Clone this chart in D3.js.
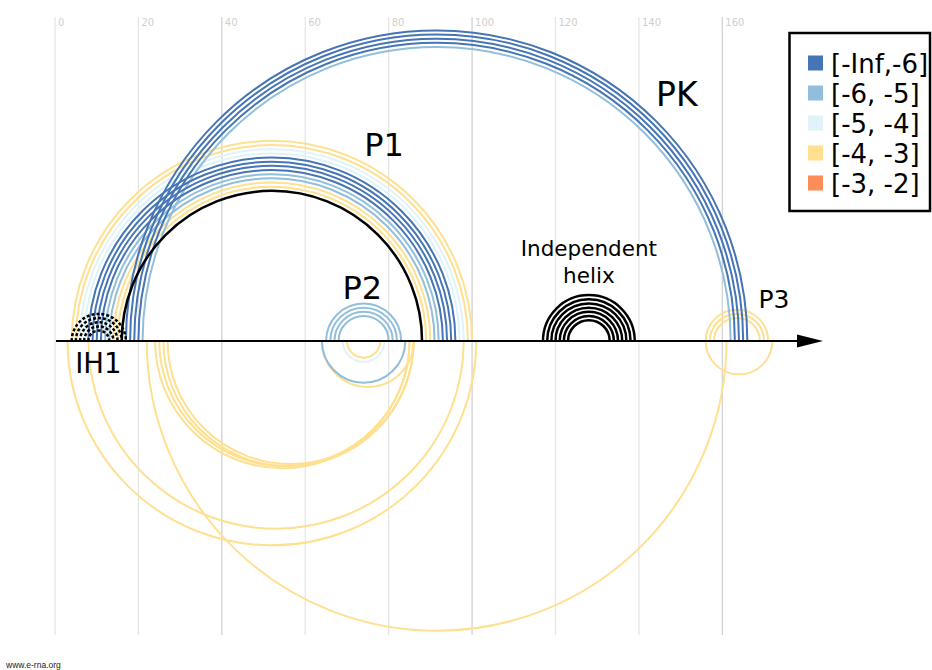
<!DOCTYPE html>
<html><head><meta charset="utf-8">
<script src="https://cdn.jsdelivr.net/npm/d3@7"></script>
<style>html,body{margin:0;padding:0;background:#fff;}svg{display:block;}</style>
</head><body>
<svg id="chart" width="932" height="670"></svg>
<script>
// ---------- data ----------
const xTicks = [0, 20, 40, 60, 80, 100, 120, 140, 160];
const bins = ["[-Inf,-6]", "[-6, -5]", "[-5, -4]", "[-4, -3]", "[-3, -2]"];
// predicted base pairs drawn above the line: [i, j, bin index]
const upperPairs = [
  // P1
  [4,100,3],[5,99,3],[6,98,2],[7,97,2],[8,96,0],[9,95,0],[10,94,0],[11,93,0],
  [12,92,1],[13,91,1],[14,90,3],[15,89,3],
  // PK
  [17,166,0],[18,165,0],[19,164,0],[20,163,0],[21,162,1],
  // P2
  [65,83,1],[66,82,1],[67,81,1],[68,80,1],
  // P3
  [156,171,3],[157,170,3],[158,169,3]
];
// alternative base pairs drawn below the line: [i, j, bin index]
const lowerPairs = [
  [22,161,3],[3,101,3],[8,98,3],
  [24,85,3],[25,85,3],[26,86,3],[27,86,3],
  [64,86,3],[64,84,1],[69,79,2],[70,78,3],
  [156,172,3]
];
// known structure (black): solid and dashed
const knownPairs = [
  [16,88],
  [117,139],[118,138],[119,137],[120,136],[121,135],[122,134],[123,133]
];
const dashedPairs = [[4,17],[5,16],[6,15],[7,14],[8,13]];
// labels: [text, x (nt), baseline height (nt)]
const helixLabels = [
  ["PK", 149.1, 56.4], ["P1", 78.9, 44.4], ["P2", 73.7, 10], ["P3", 172.4, 7.8], ["IH1", 10.4, -7.6]
];

// ---------- drawing ----------
const palette = ["#4575B4", "#91BFDB", "#E0F3F8", "#FEE090", "#FC8D59"];
const svg = d3.select("#chart");
const x = d3.scaleLinear().domain([0, 160]).range([55, 722.33]);
const k = (x(160) - x(0)) / 160;
const y0 = 341;
const y = d3.scaleLinear().domain([-80, 80]).range([y0 + 80 * k, y0 - 80 * k]);

// grid
const grid = svg.append("g");
grid.selectAll("line").data(xTicks).join("line")
  .attr("x1", d => x(d)).attr("x2", d => x(d))
  .attr("y1", 17).attr("y2", 635)
  .attr("stroke", d => (d % 60 === 40) ? "#d2d2d2" : "#e6e6e6")
  .attr("stroke-width", 1.3);
grid.selectAll("text").data(xTicks).join("text")
  .attr("x", d => x(d) + 3).attr("y", 26)
  .attr("font-family", "DejaVu Sans, sans-serif").attr("font-size", 10)
  .attr("fill", "#cfcfcf").text(d => d);

function arcPath(p, upper) {
  const x1 = x(p[0]), x2 = x(p[1]);
  const r = (x2 - x1) / 2;
  return `M${x1},${y0} A${r},${r} 0 0 ${upper ? 1 : 0} ${x2},${y0}`;
}
const byBin = (a, b) => b[2] - a[2];

svg.append("g").selectAll("path").data(lowerPairs.slice().sort(byBin)).join("path")
  .attr("d", d => arcPath(d, false)).attr("fill", "none")
  .attr("stroke", d => palette[d[2]]).attr("stroke-width", 2);

svg.append("g").selectAll("path").data(upperPairs.slice().sort(byBin)).join("path")
  .attr("d", d => arcPath(d, true)).attr("fill", "none")
  .attr("stroke", d => palette[d[2]]).attr("stroke-width", 2);

svg.append("g").selectAll("path").data(knownPairs).join("path")
  .attr("d", d => arcPath(d, true)).attr("fill", "none")
  .attr("stroke", "#000").attr("stroke-width", 2.5);

svg.append("g").selectAll("path").data(dashedPairs).join("path")
  .attr("d", d => arcPath(d, true)).attr("fill", "none")
  .attr("stroke", "#000").attr("stroke-width", 2.5).attr("stroke-dasharray", "3,2");

// baseline with arrow
svg.append("line").attr("x1", x(0) + 1).attr("x2", 800).attr("y1", y0).attr("y2", y0)
  .attr("stroke", "#000").attr("stroke-width", 2.2);
svg.append("path").attr("d", `M797,${y0 - 6.5} L823,${y0} L797,${y0 + 6.5} Z`).attr("fill", "#000");

// helix labels
const sizes = {PK: 33, P1: 32, P2: 32, P3: 25, IH1: 27.5};
svg.append("g").selectAll("text").data(helixLabels).join("text")
  .attr("x", d => x(d[1])).attr("y", d => y(d[2]))
  .attr("text-anchor", "middle")
  .attr("font-family", "DejaVu Sans, sans-serif")
  .attr("font-size", d => sizes[d[0]]).attr("fill", "#000").text(d => d[0]);

const ih = svg.append("text").attr("text-anchor", "middle")
  .attr("font-family", "DejaVu Sans, sans-serif").attr("font-size", 21.5).attr("fill", "#000");
ih.append("tspan").attr("x", x(128)).attr("y", 256).text("Independent");
ih.append("tspan").attr("x", x(128)).attr("y", 282.5).text("helix");

// legend
const lg = svg.append("g");
lg.append("rect").attr("x", 789.5).attr("y", 33).attr("width", 140.5).attr("height", 178)
  .attr("fill", "#fff").attr("stroke", "#000").attr("stroke-width", 2.5);
const items = lg.selectAll("g").data(bins).join("g")
  .attr("transform", (d, i) => `translate(808,${63 + i * 30})`);
items.append("rect").attr("x", 0).attr("y", -7.5).attr("width", 15).attr("height", 15)
  .attr("fill", (d, i) => palette[i]);
items.append("text").attr("x", 23).attr("y", 9.5)
  .attr("font-family", "DejaVu Sans, sans-serif").attr("font-size", 26).attr("fill", "#000")
  .text(d => d);

svg.append("text").attr("x", 6).attr("y", 668)
  .attr("font-family", "Liberation Sans, Arial, sans-serif").attr("font-size", 8.5)
  .attr("fill", "#222").text("www.e-rna.org");
</script>
</body></html>
